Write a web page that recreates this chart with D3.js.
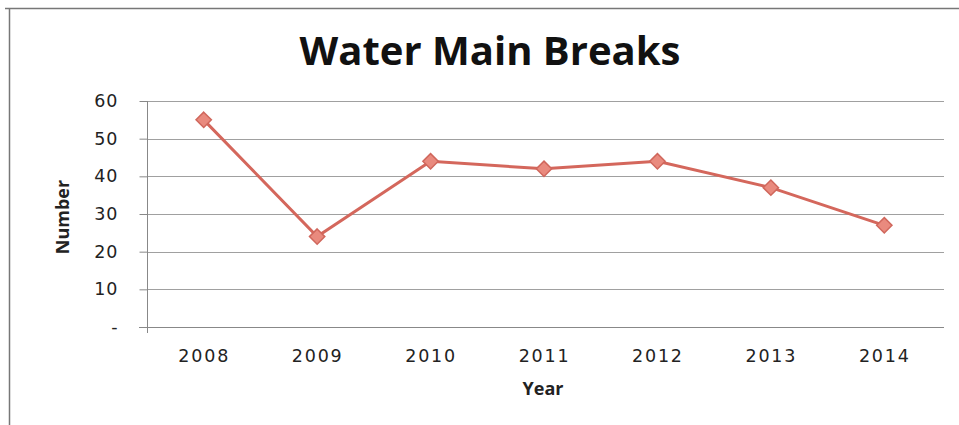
<!DOCTYPE html>
<html><head><meta charset="utf-8">
<script src="https://cdn.jsdelivr.net/npm/d3@7"></script>
<style>body{margin:0;background:#fff}svg{display:block}</style>
</head><body>
<script>
const years = ["2008","2009","2010","2011","2012","2013","2014"];
const breaks = [55, 24, 44, 42, 44, 37, 27];
const yTicks = [0,10,20,30,40,50,60];
const title = "Water Main Breaks";
const xTitle = "Year";
const yTitle = "Number";

const W = 959, H = 425;
const m = {left:147, right:18, top:101, bottom:98};
const svg = d3.select("body").append("svg").attr("width",W).attr("height",H);
svg.append("rect").attr("width",W).attr("height",H).attr("fill","#fff");
// outer border
svg.append("line").attr("x1",5).attr("x2",W).attr("y1",8.5).attr("y2",8.5).attr("stroke","#777").attr("stroke-width",1.5);
svg.append("line").attr("x1",9.5).attr("x2",9.5).attr("y1",8).attr("y2",H).attr("stroke","#777").attr("stroke-width",1.5);

const x = d3.scalePoint().domain(years).range([m.left, W-m.right]).padding(0.5);
const y = d3.scaleLinear().domain([0,60]).range([H-m.bottom, m.top]);

// gridlines
svg.append("g").selectAll("line").data(yTicks.filter(d=>d>0)).join("line")
  .attr("x1",m.left).attr("x2",W-m.right+3)
  .attr("y1",d=>Math.round(y(d))+0.5).attr("y2",d=>Math.round(y(d))+0.5)
  .attr("stroke","#a0a0a0").attr("stroke-width",1);

// y axis
const ya = svg.append("g").attr("transform",`translate(${m.left+0.5},0)`)
  .call(d3.axisLeft(y).tickValues(yTicks).tickSize(8).tickPadding(21).tickFormat(d=>d===0?"-":d));
ya.select(".domain").attr("stroke","#888").attr("d",`M0,${y(60)}V${y(0)+6}`);
ya.selectAll(".tick line").attr("stroke","#888");
ya.selectAll("text").attr("font-family","DejaVu Sans").attr("font-size",17.5).attr("fill","#222").attr("letter-spacing",1);

// x axis
const xa = svg.append("g").attr("transform",`translate(0,${Math.round(y(0))+0.5})`)
  .call(d3.axisBottom(x).tickSize(0).tickPadding(22));
xa.select(".domain").attr("stroke","#888").attr("d",`M${m.left-8},0H${W-m.right+3}`);
xa.selectAll("text").attr("font-family","DejaVu Sans").attr("font-size",17.5).attr("fill","#222").attr("letter-spacing",1.8);

// titles
svg.append("text").attr("x",490).attr("y",65).attr("text-anchor","middle")
  .attr("font-family","Open Sans, sans-serif").attr("font-weight","bold")
  .attr("font-size",40).attr("fill","#111")
  .attr("textLength",381).attr("lengthAdjust","spacingAndGlyphs").text(title);
svg.append("text").attr("x",543).attr("y",395).attr("text-anchor","middle")
  .attr("font-family","Open Sans").attr("font-weight","bold").attr("font-size",18).attr("fill","#222").text(xTitle);
svg.append("text").attr("transform","translate(69,217) rotate(-90)").attr("text-anchor","middle")
  .attr("font-family","Open Sans").attr("font-weight","bold").attr("font-size",18).attr("fill","#222").text(yTitle);

// line
const data = years.map((yr,i)=>({yr, v:breaks[i]}));
svg.append("path").datum(data)
  .attr("d",d3.line().x(d=>x(d.yr)).y(d=>y(d.v)))
  .attr("fill","none").attr("stroke","#d4675c").attr("stroke-width",3);
svg.append("g").selectAll("path").data(data).join("path")
  .attr("d",d3.symbol(d3.symbolDiamond2, 150))
  .attr("transform",d=>`translate(${x(d.yr)},${y(d.v)})`)
  .attr("fill","#e98a7e").attr("stroke","#d0675c").attr("stroke-width",1.5);
</script>
</body></html>
